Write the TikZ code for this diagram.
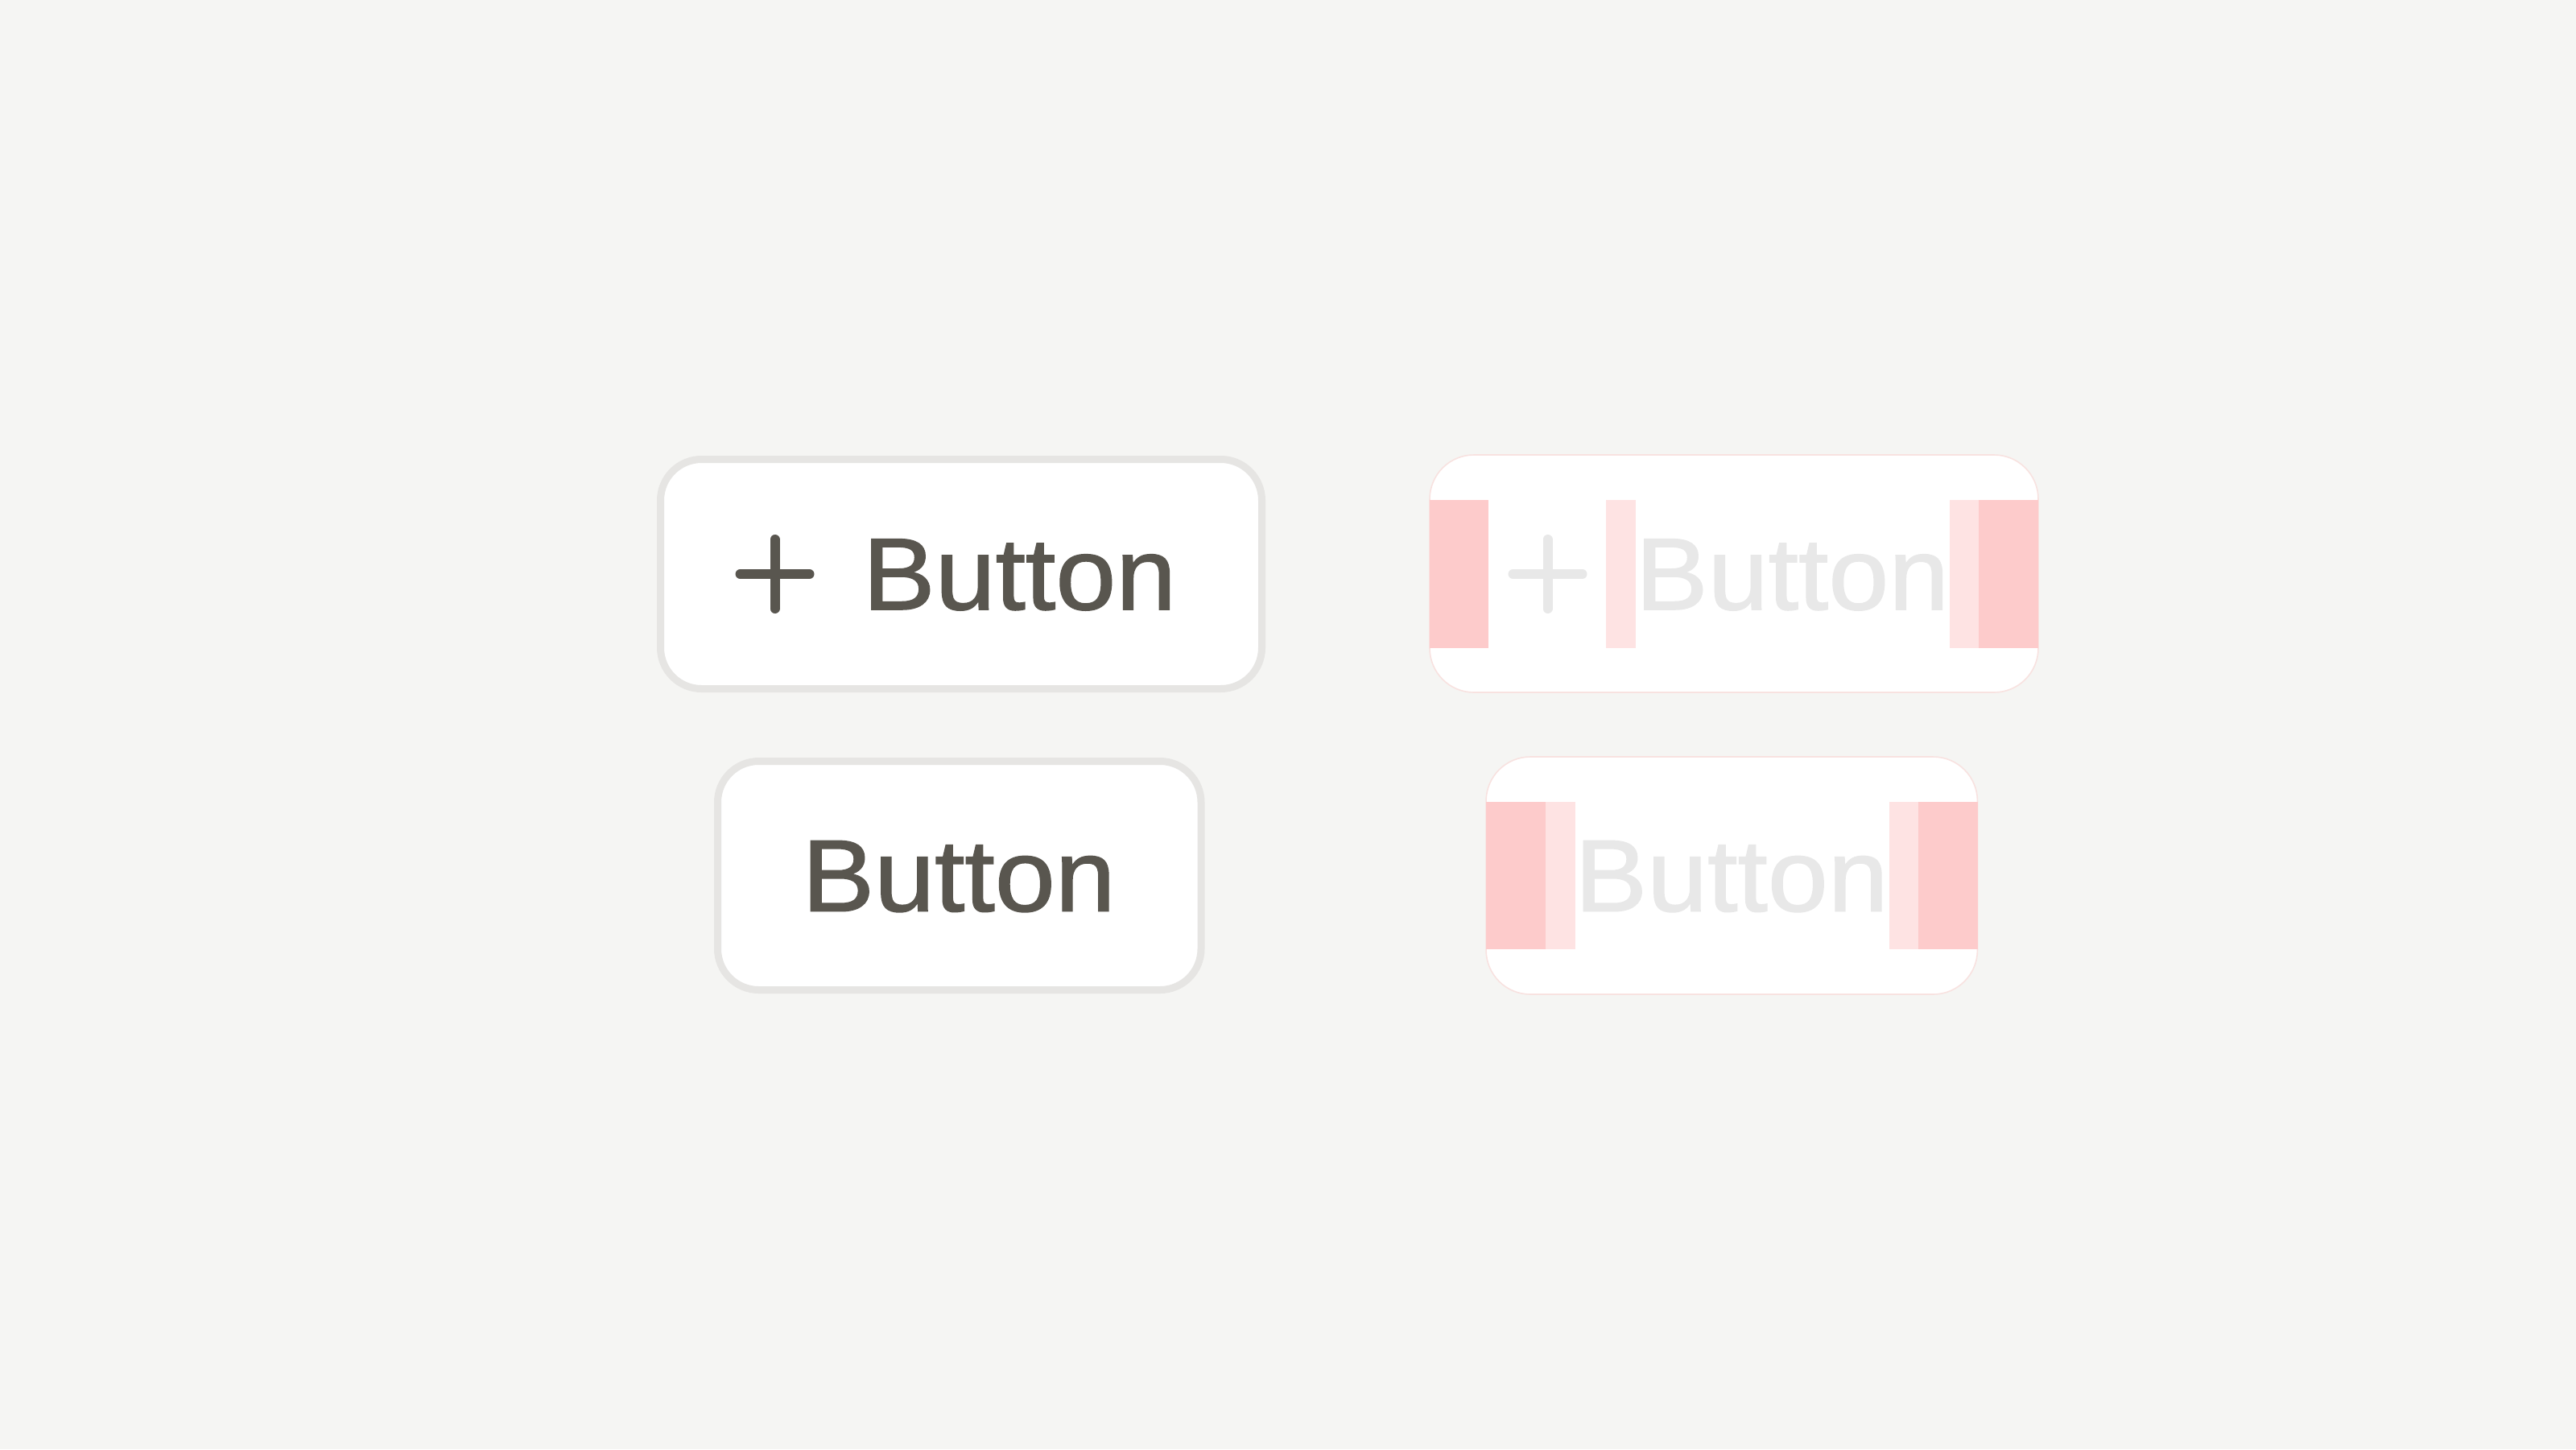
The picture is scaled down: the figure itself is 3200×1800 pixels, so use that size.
\documentclass[tikz,border=0pt]{standalone}
\usepackage{fontspec}
\setmainfont{Liberation Sans}[FakeStretch=1.06,FakeBold=1.2]
\definecolor{bg}{HTML}{F5F5F3}
\definecolor{btnborder}{HTML}{E6E5E3}
\definecolor{ink}{HTML}{59564F}
\definecolor{ghost}{HTML}{E8E8E8}
\definecolor{pinkdark}{HTML}{FDCBCB}
\definecolor{pinklight}{HTML}{FEE3E3}
\definecolor{specborder}{HTML}{F8E2E0}
\begin{document}
\begin{tikzpicture}[x=0.25pt,y=-0.25pt,
  btn/.style={draw=btnborder, line width=2.25pt, fill=white, rounded corners=12.75pt, inner sep=0pt, outer sep=0pt},
  spec/.style={draw=specborder, line width=0.4pt, fill=white, rounded corners=13.75pt, inner sep=0pt, outer sep=0pt},
  btnlabel/.style={font=\fontsize{31.75pt}{36pt}\selectfont, inner sep=0pt, anchor=base},
  darkband/.style={fill=pinkdark, draw=none},
  lightband/.style={fill=pinklight, draw=none},
  plusicon/.style={line width=3pt, line cap=round}]
\fill[bg] (0,0) rectangle (3200,1800);
\useasboundingbox (0,0) rectangle (3200,1800);

% top-left button
\node[btn, minimum width=186.75pt, minimum height=71.25pt] (tl) at (1194,713) {};
\draw[plusicon, ink] (962.5,670) -- (962.5,756) (919.5,713) -- (1005.5,713);
\node[btnlabel, text=ink] (tltext) at (1266.5,757) {Button};

% top-right spec
\node[spec, minimum width=189pt, minimum height=73.75pt] (tr) at (2154,712.5) {};
\fill[darkband] (1776,621) rectangle (1849,805);
\fill[lightband] (1995,621) rectangle (2032,805);
\fill[lightband] (2422,621) rectangle (2458,805);
\fill[darkband] (2458,621) rectangle (2532,805);
\draw[plusicon, ghost] (1922.5,670) -- (1922.5,756) (1879.5,713) -- (1965.5,713);
\node[btnlabel, text=ghost] (trtext) at (2226.5,757) {Button};

% bottom-left button
\node[btn, minimum width=150.125pt, minimum height=71pt] (bl) at (1191.75,1087.5) {};
\node[btnlabel, text=ink] (bltext) at (1191,1131.7) {Button};

% bottom-right spec
\node[spec, minimum width=152.6pt, minimum height=73.75pt] (br) at (2151.25,1087.5) {};
\fill[darkband] (1846,996) rectangle (1920,1179);
\fill[lightband] (1920,996) rectangle (1956.5,1179);
\fill[lightband] (2346.7,996) rectangle (2383,1179);
\fill[darkband] (2383,996) rectangle (2456.5,1179);
\node[btnlabel, text=ghost] (brtext) at (2151,1131.7) {Button};
\end{tikzpicture}
\end{document}
